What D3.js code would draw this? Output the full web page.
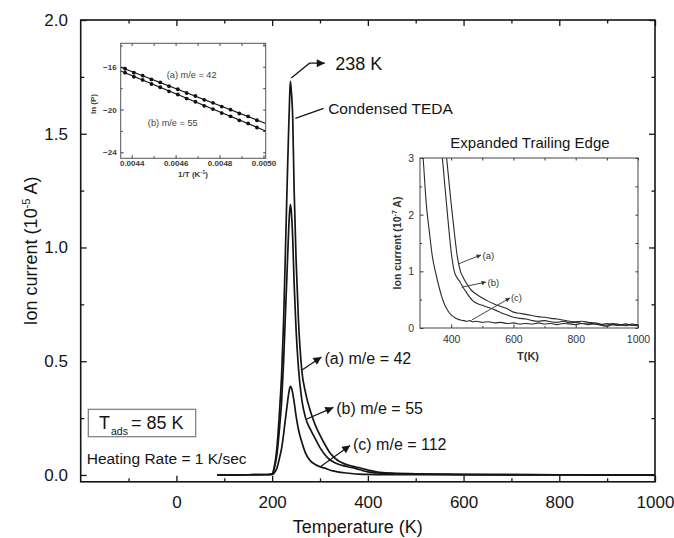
<!DOCTYPE html>
<html><head><meta charset="utf-8">
<script src="https://cdn.jsdelivr.net/npm/d3@7"></script>
<style>
body{margin:0;background:#fff}
svg{display:block}
text{font-family:Arial,"Liberation Sans",Helvetica,sans-serif}
</style>
</head><body>
<svg id="c" width="674" height="538"></svg>
<script>
// ---------- DATA (main TPD curves, ion current in 1e-5 A) ----------
const mainT = [85,150,190,200,204,210,216,220,224,228,231,234,236,238,240,243,246,250,255,262,270,280,290,300,310,320,330,340,350,360,370,380,390,400,420,450,500,600,700,800,900,1000];
const ionA  = [0,0.001,0.002,0.005,0.03,0.12,0.30,0.45,0.68,1.00,1.25,1.48,1.62,1.73,1.69,1.57,1.25,0.95,0.68,0.46,0.36,0.28,0.22,0.175,0.135,0.10,0.076,0.060,0.050,0.043,0.038,0.033,0.0275,0.022,0.0125,0.0078,0.0053,0.0028,0.0019,0.0011,0.0006,0.0005];
const ionB  = [0,0.001,0.002,0.004,0.025,0.09,0.22,0.33,0.50,0.72,0.88,1.05,1.14,1.19,1.16,1.04,0.84,0.64,0.47,0.33,0.25,0.20,0.16,0.12,0.09,0.068,0.055,0.046,0.040,0.035,0.031,0.025,0.019,0.0135,0.0088,0.0062,0.0040,0.0019,0.0013,0.0010,0.0008,0.0006];
const ionC  = [0,0.001,0.001,0.002,0.008,0.03,0.08,0.12,0.18,0.25,0.30,0.35,0.375,0.39,0.385,0.36,0.32,0.26,0.20,0.145,0.095,0.062,0.046,0.036,0.030,0.022,0.017,0.0125,0.0098,0.0075,0.0055,0.004,0.003,0.0023,0.0016,0.0012,0.0010,0.0009,0.0007,0.0006,0.0004,0.0004];
const xTicks = [0,200,400,600,800,1000];
const xMinor = [-100,100,300,500,700,900];
const yTicks = [0,0.5,1.0,1.5,2.0];
const yMinor = [0.25,0.75,1.25,1.75];

// ---------- DATA (expanded trailing edge, 1e-7 A) ----------
const tailT = [300,310,320,330,340,350,360,370,380,390,400,410,420,430,440,450,460,470,480,500,520,540,560,580,600,620,640,660,680,700,720,740,760,780,800,820,840,860,880,900,920,940,960,980,1000];
const tailA = [14,11,8.5,7.0,5.8,4.9,4.3,3.8,3.3,2.75,2.2,1.7,1.25,1.0,0.88,0.78,0.70,0.64,0.60,0.53,0.47,0.42,0.38,0.34,0.28,0.26,0.24,0.22,0.20,0.19,0.17,0.16,0.14,0.12,0.11,0.12,0.10,0.09,0.07,0.05,0.08,0.06,0.04,0.07,0.05];
const tailB = [9.5,7.5,6.0,5.1,4.4,3.9,3.5,3.1,2.5,1.9,1.35,1.0,0.88,0.80,0.70,0.62,0.54,0.48,0.44,0.40,0.36,0.32,0.27,0.23,0.19,0.17,0.16,0.13,0.12,0.13,0.11,0.10,0.12,0.09,0.10,0.08,0.09,0.07,0.06,0.08,0.06,0.05,0.07,0.05,0.06];
const tailC = [3.6,3.0,2.2,1.7,1.25,0.98,0.75,0.55,0.40,0.30,0.23,0.19,0.16,0.14,0.13,0.12,0.13,0.11,0.12,0.10,0.11,0.09,0.10,0.08,0.09,0.07,0.08,0.07,0.09,0.07,0.08,0.06,0.08,0.07,0.06,0.08,0.06,0.07,0.05,0.03,0.06,0.05,0.07,0.05,0.04];
const tailXTicks = [400,600,800,1000];
const tailXMinor = [500,700,900];
const tailYTicks = [0,1,2,3];
const tailYMinor = [0.5,1.5,2.5];

// ---------- DATA (Arrhenius inset) ----------
const invT = [0.00437,0.00441,0.00445,0.00449,0.00453,0.00457,0.00461,0.00465,0.00469,0.00473,0.00477,0.00481,0.00485,0.00489,0.00493,0.00497];
const lnPA = [-16.18,-16.55,-16.83,-17.18,-17.46,-17.81,-18.10,-18.45,-18.73,-19.09,-19.37,-19.72,-20.01,-20.37,-20.64,-21.00];
const lnPB = [-16.55,-16.93,-17.23,-17.61,-17.91,-18.29,-18.59,-18.97,-19.27,-19.65,-19.95,-20.33,-20.63,-21.01,-21.30,-21.68];
const fitX = [0.00435,0.00501];
const fitA = [-16.05,-21.3];
const fitB = [-16.40,-22.0];
const arrXTicks = [0.0044,0.0046,0.0048,0.0050];
const arrXMinor = [0.0045,0.0047,0.0049];
const arrYTicks = [-16,-20,-24];
const arrYMinor = [-14,-18,-22];

// ---------- DRAW ----------
const svg = d3.select('#c');
const INK = '#151515';
const defs = svg.append('defs');
defs.append('marker').attr('id','arr').attr('viewBox','0 0 10 10').attr('refX',10).attr('refY',5)
  .attr('markerWidth',12).attr('markerHeight',8).attr('markerUnits','userSpaceOnUse').attr('orient','auto')
  .append('path').attr('d','M0,0L10,5L0,10z').attr('fill',INK);
defs.append('marker').attr('id','arrS').attr('viewBox','0 0 10 10').attr('refX',10).attr('refY',5)
  .attr('markerWidth',6).attr('markerHeight',4.5).attr('markerUnits','userSpaceOnUse').attr('orient','auto')
  .append('path').attr('d','M0,0L10,5L0,10z').attr('fill','#333');

const M = {l:80.7, r:655, t:20, b:481.8};
const x = d3.scaleLinear().domain([-200,1000]).range([M.l, M.r]);
const y = d3.scaleLinear().domain([-0.03,2.0]).range([M.b, M.t]);

function styleAxis(g, size, color, sw){
  g.select('.domain').remove();
  g.selectAll('line').attr('stroke',color).attr('stroke-width',sw);
  g.selectAll('text').attr('font-size',size).attr('fill',color).attr('font-family','Arial, "Liberation Sans", sans-serif');
  return g;
}
// main axes
styleAxis(svg.append('g').attr('transform',`translate(0,${M.b})`)
  .call(d3.axisBottom(x).tickValues(xTicks).tickSizeInner(-6).tickSizeOuter(0).tickPadding(14).tickFormat(d3.format('d'))),17,INK,1.3);
styleAxis(svg.append('g').attr('transform',`translate(0,${M.b})`)
  .call(d3.axisBottom(x).tickValues(xMinor).tickSize(-3.5).tickFormat('')),17,INK,1.3);
styleAxis(svg.append('g').attr('transform',`translate(0,${M.t})`)
  .call(d3.axisTop(x).tickValues(xTicks).tickSize(-6).tickFormat('')),17,INK,1.3);
styleAxis(svg.append('g').attr('transform',`translate(0,${M.t})`)
  .call(d3.axisTop(x).tickValues(xMinor).tickSize(-3.5).tickFormat('')),17,INK,1.3);
styleAxis(svg.append('g').attr('transform',`translate(${M.l},0)`)
  .call(d3.axisLeft(y).tickValues(yTicks).tickSizeInner(-6).tickSizeOuter(0).tickPadding(12.7).tickFormat(d3.format('.1f'))),17,INK,1.3);
styleAxis(svg.append('g').attr('transform',`translate(${M.l},0)`)
  .call(d3.axisLeft(y).tickValues(yMinor).tickSize(-3.5).tickFormat('')),17,INK,1.3);
styleAxis(svg.append('g').attr('transform',`translate(${M.r},0)`)
  .call(d3.axisRight(y).tickValues(yTicks).tickSize(-6).tickFormat('')),17,INK,1.3);
styleAxis(svg.append('g').attr('transform',`translate(${M.r},0)`)
  .call(d3.axisRight(y).tickValues(yMinor).tickSize(-3.5).tickFormat('')),17,INK,1.3);
svg.append('rect').attr('x',M.l).attr('y',M.t).attr('width',M.r-M.l).attr('height',M.b-M.t)
  .attr('fill','none').attr('stroke',INK).attr('stroke-width',1.6);

// axis titles
svg.append('text').attr('x',(M.l+M.r)/2 - 10).attr('y',533).attr('text-anchor','middle')
  .attr('font-size',18).attr('fill',INK).text('Temperature (K)');
const yt = svg.append('text').attr('transform',`translate(37,251) rotate(-90)`).attr('text-anchor','middle')
  .attr('font-size',18).attr('fill',INK);
yt.append('tspan').text('Ion current (10');
yt.append('tspan').attr('font-size',11).attr('dy',-7).text('-5');
yt.append('tspan').attr('dy',7).text(' A)');

// main curves
const line = d3.line().x(d=>x(d[0])).y(d=>y(d[1])).curve(d3.curveMonotoneX);
[ionA, ionB, ionC].forEach(s=>{
  svg.append('path').datum(mainT.map((t,i)=>[t,s[i]])).attr('d',line)
    .attr('fill','none').attr('stroke',INK).attr('stroke-width',1.7).attr('stroke-linejoin','round');
});

// main annotations (data space)
function arrow(pts, marker, color, w){
  svg.append('path').attr('d', d3.line()(pts.map(p=>[x(p[0]),y(p[1])])))
    .attr('fill','none').attr('stroke',color).attr('stroke-width',w).attr('marker-end',`url(#${marker})`);
}
function label(t, v, txt, size){
  return svg.append('text').attr('x',x(t)).attr('y',y(v)).attr('dy','0.36em').attr('font-size',size).attr('fill',INK).text(txt);
}
arrow([[240,1.745],[278,1.81],[310,1.81]],'arr',INK,1.3);
label(332,1.81,'238 K',18);
svg.append('path').attr('d', d3.line()([[248.5,1.568],[307.5,1.612]].map(p=>[x(p[0]),y(p[1])])))
  .attr('stroke',INK).attr('stroke-width',1.3);
label(317,1.612,'Condensed TEDA',15.5);
arrow([[262.4,0.462],[303,0.519]],'arr',INK,1.2);
label(309.5,0.514,'(a) m/e = 42',16);
arrow([[271.4,0.245],[328,0.297]],'arr',INK,1.2);
label(334,0.293,'(b) m/e = 55',16);
arrow([[300.6,0.036],[363,0.13]],'arr',INK,1.2);
label(369,0.133,'(c) m/e = 112',16);

// T_ads box + heating rate
svg.append('rect').attr('x',88.3).attr('y',409.3).attr('width',107.4).attr('height',27.4)
  .attr('fill','#fff').attr('stroke','#7a7a7a').attr('stroke-width',1.2);
const tb = svg.append('text').attr('x',99).attr('y',428.5).attr('font-size',18).attr('fill',INK);
tb.append('tspan').text('T');
tb.append('tspan').attr('font-size',10.5).attr('dy',6.5).attr('dx',1).text('ads');
tb.append('tspan').attr('dy',-6.5).attr('dx',3).text('= 85 K');
svg.append('text').attr('x',86.7).attr('y',464).attr('font-size',15.5).attr('fill',INK).text('Heating Rate = 1 K/sec');

// ---------- Arrhenius inset ----------
const ix = d3.scaleLinear().domain([0.00435,0.00501]).range([120.7,265.7]);
const iy = d3.scaleLinear().domain([-24.56,-13.8]).range([158.3,43.3]);
const GR = '#3a3a3a';
svg.append('rect').attr('x',120.7).attr('y',43.3).attr('width',145).attr('height',115).attr('fill','#fff');
const ia = svg.append('g');
styleAxis(ia.append('g').attr('transform','translate(0,158.3)')
  .call(d3.axisBottom(ix).tickValues(arrXTicks).tickSizeInner(-3).tickSizeOuter(0).tickPadding(2.5).tickFormat(d3.format('.4f'))),8,GR,1);
styleAxis(ia.append('g').attr('transform','translate(0,158.3)')
  .call(d3.axisBottom(ix).tickValues(arrXMinor).tickSize(-2).tickFormat('')),8,GR,1);
styleAxis(ia.append('g').attr('transform','translate(0,43.3)')
  .call(d3.axisTop(ix).tickValues(arrXTicks.concat(arrXMinor)).tickSize(-2.5).tickFormat('')),8,GR,1);
styleAxis(ia.append('g').attr('transform','translate(120.7,0)')
  .call(d3.axisLeft(iy).tickValues(arrYTicks).tickSizeInner(-3).tickSizeOuter(0).tickPadding(4).tickFormat(d3.format('d'))),8,GR,1);
styleAxis(ia.append('g').attr('transform','translate(120.7,0)')
  .call(d3.axisLeft(iy).tickValues(arrYMinor).tickSize(-2).tickFormat('')),8,GR,1);
styleAxis(ia.append('g').attr('transform','translate(265.7,0)')
  .call(d3.axisRight(iy).tickValues(arrYTicks.concat(arrYMinor)).tickSize(-2.5).tickFormat('')),8,GR,1);
ia.selectAll('text').attr('font-weight','bold');
[fitA, fitB].forEach(f=>{
  svg.append('path').attr('d', d3.line()(fitX.map((v,i)=>[ix(v), iy(f[i])])))
    .attr('stroke','#111').attr('stroke-width',1.1);
});
[lnPA, lnPB].forEach(s=>{
  svg.append('g').selectAll('circle').data(invT.map((v,i)=>[v,s[i]])).join('circle')
    .attr('cx',d=>ix(d[0])).attr('cy',d=>iy(d[1])).attr('r',1.9).attr('fill','#111');
});
svg.append('rect').attr('x',120.7).attr('y',43.3).attr('width',145).attr('height',115)
  .attr('fill','none').attr('stroke','#555').attr('stroke-width',1);
svg.append('text').attr('x',ix(0.004673)).attr('y',iy(-16.78)).attr('dy','0.35em').attr('text-anchor','middle')
  .attr('font-size',9.2).attr('fill','#444').text('(a) m/e = 42');
svg.append('text').attr('x',ix(0.004587)).attr('y',iy(-21.23)).attr('dy','0.35em').attr('text-anchor','middle')
  .attr('font-size',9.2).attr('fill','#444').text('(b) m/e = 55');
svg.append('text').attr('transform','translate(96,104) rotate(-90)').attr('text-anchor','middle')
  .attr('font-size',8).attr('font-weight','bold').attr('fill',GR).text('ln (P)');
const ixt = svg.append('text').attr('x',193).attr('y',177).attr('text-anchor','middle')
  .attr('font-size',8).attr('font-weight','bold').attr('fill',GR);
ixt.append('tspan').text('1/T (K');
ixt.append('tspan').attr('font-size',5.5).attr('dy',-3.5).text('-1');
ixt.append('tspan').attr('dy',3.5).text(')');

// ---------- Expanded trailing edge inset ----------
const rx = d3.scaleLinear().domain([300,1000]).range([420,638]);
const ry = d3.scaleLinear().domain([0,3]).range([328,158]);
const RG = '#333';
svg.append('rect').attr('x',420).attr('y',158).attr('width',218).attr('height',170).attr('fill','#fff');
defs.append('clipPath').attr('id','rclip').append('rect').attr('x',420).attr('y',158).attr('width',218).attr('height',170);
const ra = svg.append('g');
styleAxis(ra.append('g').attr('transform','translate(0,328)')
  .call(d3.axisBottom(rx).tickValues(tailXTicks).tickSizeInner(-3.5).tickSizeOuter(0).tickPadding(8).tickFormat(d3.format('d'))),10.5,RG,1);
styleAxis(ra.append('g').attr('transform','translate(0,328)')
  .call(d3.axisBottom(rx).tickValues(tailXMinor).tickSize(-2).tickFormat('')),10.5,RG,1);
styleAxis(ra.append('g').attr('transform','translate(0,158)')
  .call(d3.axisTop(rx).tickValues(tailXTicks.concat(tailXMinor)).tickSize(-2.5).tickFormat('')),10.5,RG,1);
styleAxis(ra.append('g').attr('transform','translate(420,0)')
  .call(d3.axisLeft(ry).tickValues(tailYTicks).tickSizeInner(-3.5).tickSizeOuter(0).tickPadding(6).tickFormat(d3.format('d'))),10.5,RG,1);
styleAxis(ra.append('g').attr('transform','translate(420,0)')
  .call(d3.axisLeft(ry).tickValues(tailYMinor).tickSize(-2).tickFormat('')),10.5,RG,1);
styleAxis(ra.append('g').attr('transform','translate(638,0)')
  .call(d3.axisRight(ry).tickValues(tailYTicks.concat(tailYMinor)).tickSize(-2.5).tickFormat('')),10.5,RG,1);
const rline = d3.line().x(d=>rx(d[0])).y(d=>ry(d[1])).curve(d3.curveMonotoneX);
const rg = svg.append('g').attr('clip-path','url(#rclip)');
[tailA, tailB, tailC].forEach(s=>{
  rg.append('path').datum(tailT.map((t,i)=>[t,s[i]])).attr('d',rline)
    .attr('fill','none').attr('stroke','#2a2a2a').attr('stroke-width',1.1);
});
svg.append('rect').attr('x',420).attr('y',158).attr('width',218).attr('height',170)
  .attr('fill','none').attr('stroke','#444').attr('stroke-width',1);
svg.append('text').attr('x',530).attr('y',147.5).attr('text-anchor','middle').attr('font-size',15).attr('fill',INK).text('Expanded Trailing Edge');
svg.append('text').attr('x',528).attr('y',360).attr('text-anchor','middle').attr('font-size',11).attr('font-weight','bold').attr('fill',RG).text('T(K)');
const ryt = svg.append('text').attr('transform','translate(401,243) rotate(-90)').attr('text-anchor','middle')
  .attr('font-size',10.5).attr('font-weight','bold').attr('fill',RG);
ryt.append('tspan').text('Ion current (10');
ryt.append('tspan').attr('font-size',7).attr('dy',-4.5).text('-7');
ryt.append('tspan').attr('dy',4.5).text(' A)');
function rarrow(pts){
  svg.append('path').attr('d', d3.line()(pts.map(p=>[rx(p[0]),ry(p[1])])))
    .attr('fill','none').attr('stroke','#333').attr('stroke-width',0.9).attr('marker-end','url(#arrS)');
}
function rlabel(t,v,txt){
  svg.append('text').attr('x',rx(t)).attr('y',ry(v)).attr('dy','0.35em').attr('font-size',9.5).attr('fill','#333').text(txt);
}
rarrow([[423,1.13],[496,1.29]]); rlabel(501,1.28,'(a)');
rarrow([[434,0.72],[512,0.81]]); rlabel(517,0.8,'(b)');
rarrow([[466,0.14],[589,0.53]]); rlabel(592,0.53,'(c)');
</script>
</body></html>
